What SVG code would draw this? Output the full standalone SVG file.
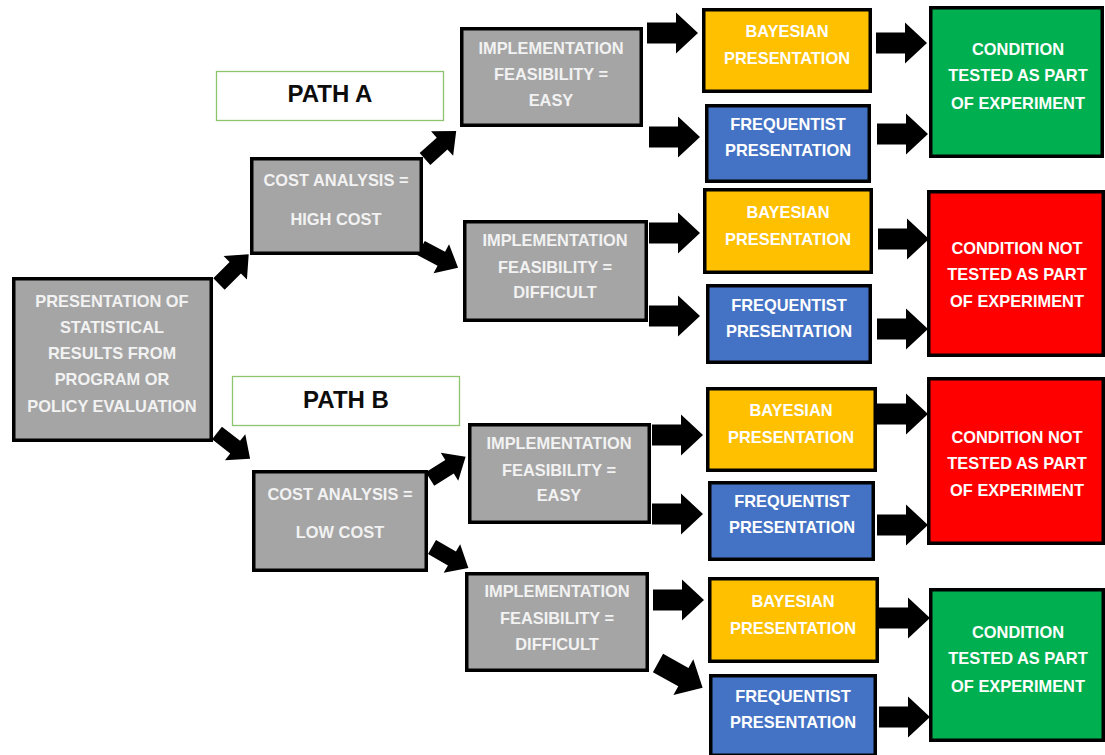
<svg xmlns="http://www.w3.org/2000/svg" xmlns:xlink="http://www.w3.org/1999/xlink" width="1105" height="755" viewBox="0 0 1105 755">
<style>
.box{stroke:#000;stroke-width:3.5}
.gray{fill:#A5A5A5}
.yel{fill:#FFC000}
.blu{fill:#4472C4}
.grn{fill:#00B050}
.red{fill:#FF0000}
.path{fill:#fff;stroke:#8FC46F;stroke-width:1.3}
.t{font-family:"Liberation Sans",Arial,sans-serif;font-weight:bold;font-size:16.4px;fill:#fff;text-anchor:middle}
.tg{fill:#F2F2F2}
.ph{font-family:"Liberation Sans",Arial,sans-serif;font-weight:bold;font-size:24px;fill:#0D0D0D;text-anchor:middle}
.arr{fill:#000}
</style>
<defs>
<path id="big" class="arr" d="M0,-10.5 H29 V-20.5 L51,0 L29,20.5 V10.5 H0 Z"/>
<path id="small" class="arr" d="M0,-8 H23 V-16.5 L42,0 L23,16.5 V8 H0 Z"/>
</defs>
<rect width="1105" height="755" fill="#fff"/>

<g id="connectors">
<use xlink:href="#big" transform="translate(647,33)"/>
<use xlink:href="#big" transform="translate(649,137)"/>
<use xlink:href="#big" transform="translate(876,43)"/>
<use xlink:href="#big" transform="translate(877,134)"/>
<use xlink:href="#big" transform="translate(649,233)"/>
<use xlink:href="#big" transform="translate(649,316)"/>
<use xlink:href="#big" transform="translate(878,239)"/>
<use xlink:href="#big" transform="translate(877,329)"/>
<use xlink:href="#big" transform="translate(652,435)"/>
<use xlink:href="#big" transform="translate(652,514)"/>
<use xlink:href="#big" transform="translate(877,414)"/>
<use xlink:href="#big" transform="translate(877,525)"/>
<use xlink:href="#big" transform="translate(653,600)"/>
<use xlink:href="#big" transform="translate(879,618)"/>
<use xlink:href="#big" transform="translate(879,717)"/>
<use xlink:href="#small" transform="translate(219,284) rotate(-45)"/>
<use xlink:href="#small" transform="translate(217,433) rotate(38)"/>
<use xlink:href="#small" transform="translate(425,159) rotate(-42)"/>
<use xlink:href="#small" transform="translate(421,248) rotate(28)"/>
<use xlink:href="#small" transform="translate(430,479) rotate(-32)"/>
<use xlink:href="#small" transform="translate(432,547) rotate(30)"/>
<use xlink:href="#big" transform="translate(658,663) rotate(29)"/>
</g>

<g id="main">
<rect class="box gray" x="13.75" y="278.75" width="197.5" height="161.5"/>
<text class="t tg" x="112" y="307">PRESENTATION OF</text>
<text class="t tg" x="112" y="333">STATISTICAL</text>
<text class="t tg" x="112" y="359">RESULTS FROM</text>
<text class="t tg" x="112" y="385">PROGRAM OR</text>
<text class="t tg" x="112" y="412">POLICY EVALUATION</text>
</g>

<g id="pathA">
<rect class="path" x="216.5" y="71.5" width="227" height="49"/>
<text class="ph" x="330" y="102">PATH A</text>
</g>
<g id="pathB">
<rect class="path" x="232.5" y="376.5" width="227" height="49"/>
<text class="ph" x="346" y="408">PATH B</text>
</g>

<g id="costHigh">
<rect class="box gray" x="251.75" y="158.75" width="169.5" height="94.5"/>
<text class="t tg" x="336" y="186">COST ANALYSIS =</text>
<text class="t tg" x="336" y="225">HIGH COST</text>
</g>
<g id="costLow">
<rect class="box gray" x="253.75" y="471.75" width="172.5" height="98.5"/>
<text class="t tg" x="340" y="500">COST ANALYSIS =</text>
<text class="t tg" x="340" y="538">LOW COST</text>
</g>

<g id="implEasyA">
<rect class="box gray" x="461.75" y="28.75" width="179.5" height="96.5"/>
<text class="t tg" x="551" y="54">IMPLEMENTATION</text>
<text class="t tg" x="551" y="80">FEASIBILITY =</text>
<text class="t tg" x="551" y="106">EASY</text>
</g>
<g id="implDiffA">
<rect class="box gray" x="464.75" y="221.75" width="181.5" height="98.5"/>
<text class="t tg" x="555" y="246">IMPLEMENTATION</text>
<text class="t tg" x="555" y="273">FEASIBILITY =</text>
<text class="t tg" x="555" y="298">DIFFICULT</text>
</g>
<g id="implEasyB">
<rect class="box gray" x="469.75" y="424.75" width="179.5" height="97.5"/>
<text class="t tg" x="559" y="449">IMPLEMENTATION</text>
<text class="t tg" x="559" y="476">FEASIBILITY =</text>
<text class="t tg" x="559" y="501">EASY</text>
</g>
<g id="implDiffB">
<rect class="box gray" x="466.75" y="573.75" width="180.5" height="96.5"/>
<text class="t tg" x="557" y="597">IMPLEMENTATION</text>
<text class="t tg" x="557" y="624">FEASIBILITY =</text>
<text class="t tg" x="557" y="650">DIFFICULT</text>
</g>

<g id="bayesA1">
<rect class="box yel" x="703.75" y="9.75" width="166.5" height="81.5"/>
<text class="t" x="787" y="37">BAYESIAN</text>
<text class="t" x="787" y="64">PRESENTATION</text>
</g>
<g id="freqA1">
<rect class="box blu" x="706.75" y="105.75" width="162.5" height="75.5"/>
<text class="t" x="788" y="130">FREQUENTIST</text>
<text class="t" x="788" y="156">PRESENTATION</text>
</g>
<g id="bayesA2">
<rect class="box yel" x="704.75" y="189.75" width="166.5" height="82.5"/>
<text class="t" x="788" y="218">BAYESIAN</text>
<text class="t" x="788" y="245">PRESENTATION</text>
</g>
<g id="freqA2">
<rect class="box blu" x="707.75" y="285.75" width="162.5" height="76.5"/>
<text class="t" x="789" y="311">FREQUENTIST</text>
<text class="t" x="789" y="337">PRESENTATION</text>
</g>
<g id="bayesB1">
<rect class="box yel" x="707.75" y="388.75" width="167.5" height="81.5"/>
<text class="t" x="791" y="416">BAYESIAN</text>
<text class="t" x="791" y="443">PRESENTATION</text>
</g>
<g id="freqB1">
<rect class="box blu" x="709.75" y="482.75" width="163.5" height="76.5"/>
<text class="t" x="792" y="507">FREQUENTIST</text>
<text class="t" x="792" y="533">PRESENTATION</text>
</g>
<g id="bayesB2">
<rect class="box yel" x="709.75" y="578.75" width="167.5" height="82.5"/>
<text class="t" x="793" y="607">BAYESIAN</text>
<text class="t" x="793" y="634">PRESENTATION</text>
</g>
<g id="freqB2">
<rect class="box blu" x="710.75" y="675.75" width="164.5" height="79.5"/>
<text class="t" x="793" y="702">FREQUENTIST</text>
<text class="t" x="793" y="728">PRESENTATION</text>
</g>

<g id="resultA1">
<rect class="box grn" x="930.75" y="7.75" width="171.5" height="148.5"/>
<text class="t" x="1018" y="55">CONDITION</text>
<text class="t" x="1018" y="81">TESTED AS PART</text>
<text class="t" x="1018" y="109">OF EXPERIMENT</text>
</g>
<g id="resultA2">
<rect class="box red" x="928.75" y="191.75" width="174.5" height="163.5"/>
<text class="t" x="1017" y="254">CONDITION NOT</text>
<text class="t" x="1017" y="280">TESTED AS PART</text>
<text class="t" x="1017" y="307">OF EXPERIMENT</text>
</g>
<g id="resultB1">
<rect class="box red" x="928.75" y="378.75" width="174.5" height="164.5"/>
<text class="t" x="1017" y="443">CONDITION NOT</text>
<text class="t" x="1017" y="469">TESTED AS PART</text>
<text class="t" x="1017" y="496">OF EXPERIMENT</text>
</g>
<g id="resultB2">
<rect class="box grn" x="930.75" y="589.75" width="172.5" height="150.5"/>
<text class="t" x="1018" y="638">CONDITION</text>
<text class="t" x="1018" y="664">TESTED AS PART</text>
<text class="t" x="1018" y="692">OF EXPERIMENT</text>
</g>
</svg>
